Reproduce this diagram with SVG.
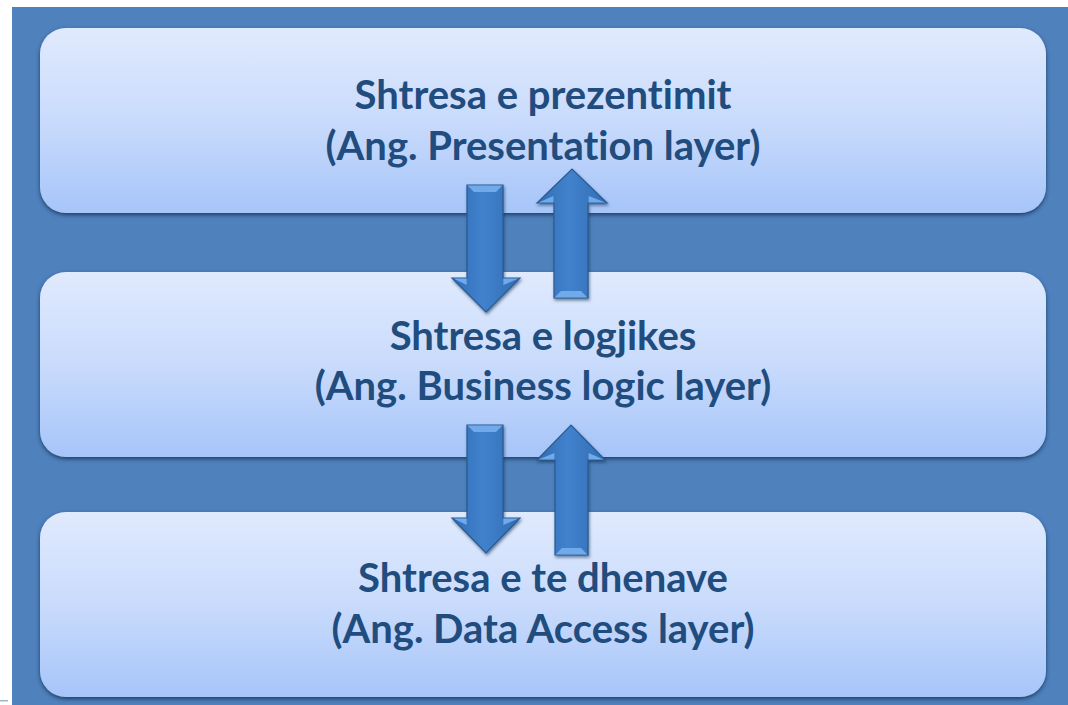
<svg xmlns="http://www.w3.org/2000/svg" width="1068" height="705" viewBox="0 0 1068 705">
  <defs>
    <linearGradient id="boxFill" x1="0" y1="0" x2="0" y2="1">
      <stop offset="0" stop-color="#e0eafd"/>
      <stop offset="0.5" stop-color="#c9dbfc"/>
      <stop offset="1" stop-color="#a6c5f9"/>
    </linearGradient>
    <linearGradient id="arrowFill" x1="0" y1="0" x2="1" y2="0">
      <stop offset="0" stop-color="#316cb3"/>
      <stop offset="0.45" stop-color="#4182cd"/>
      <stop offset="1" stop-color="#326db3"/>
    </linearGradient>
    <filter id="boxShadow" x="-5%" y="-10%" width="110%" height="125%">
      <feGaussianBlur in="SourceAlpha" stdDeviation="2"/>
      <feOffset dx="0" dy="2" result="b"/>
      <feComponentTransfer><feFuncA type="linear" slope="0.75"/></feComponentTransfer>
      <feFlood flood-color="#1e3f66"/>
      <feComposite operator="in" in2="b"/>
      <feMerge><feMergeNode/><feMergeNode in="SourceGraphic"/></feMerge>
    </filter>
    <filter id="arrowShadow" x="-40%" y="-20%" width="180%" height="140%">
      <feGaussianBlur in="SourceAlpha" stdDeviation="1.5"/>
      <feOffset dx="1" dy="2" result="b"/>
      <feFlood flood-color="#1a3658" flood-opacity="0.6"/>
      <feComposite operator="in" in2="b"/>
      <feMerge><feMergeNode/><feMergeNode in="SourceGraphic"/></feMerge>
    </filter>
  </defs>
  <style>
    .box { fill: url(#boxFill); filter: url(#boxShadow); }
    .label { font-family: Lato, "Liberation Sans", sans-serif; font-weight: bold; font-size: 40px; fill: #214c7e; text-anchor: middle; font-variant-ligatures: none; }
    .arrow { fill: url(#arrowFill); stroke: #2a5a92; stroke-width: 1.2; stroke-linejoin: miter; }
    .bevel { fill: #70aaea; }
    .arrows { filter: url(#arrowShadow); }
  </style>

  <!-- page background -->
  <rect x="0" y="0" width="1068" height="705" fill="#ffffff"/>
  <rect x="12" y="7" width="1056" height="698" fill="#4f81bd"/>
  <rect x="0" y="700" width="8" height="1.5" fill="#9fb5cc"/>

  <g id="presentation-layer">
    <rect class="box" x="40" y="28" width="1006" height="185" rx="26" ry="26"/>
    <text class="label" x="543" y="109">Shtresa e prezentimit</text>
    <text class="label" x="543" y="160">(Ang. Presentation layer)</text>
  </g>

  <g id="business-layer">
    <rect class="box" x="40" y="272" width="1006" height="185" rx="26" ry="26"/>
    <text class="label" x="543" y="350">Shtresa e logjikes</text>
    <text class="label" x="543" y="400">(Ang. Business logic layer)</text>
  </g>

  <g id="data-layer">
    <rect class="box" x="40" y="512" width="1006" height="185" rx="26" ry="26"/>
    <text class="label" x="543" y="592">Shtresa e te dhenave</text>
    <text class="label" x="543" y="643">(Ang. Data Access layer)</text>
  </g>

  <g id="connectors">
    <!-- presentation -> business -->
    <g class="arrows">
      <polygon class="arrow" points="467,185 503,185 503,278 520,278 486,312 452,278 467,278"/>
      <polygon class="bevel" points="467.6,185.6 502.4,185.6 496,192 474,192"/>
      <polygon class="bevel" points="453.5,278.6 466.6,278.6 466.6,285"/>
      <polygon class="bevel" points="503.4,278.6 518.5,278.6 503.4,285"/>
    </g>
    <!-- business -> presentation -->
    <g class="arrows">
      <polygon class="arrow" points="554,298 588,298 588,203 607,203 572,169 537,203 554,203"/>
      <polygon class="bevel" points="554.6,297.4 587.4,297.4 581,291 561,291"/>
      <polygon class="bevel" points="538.5,202.4 553.4,202.4 553.4,196"/>
      <polygon class="bevel" points="588.6,202.4 605.5,202.4 588.6,196"/>
    </g>
    <!-- business -> data -->
    <g class="arrows">
      <polygon class="arrow" points="467,425 503,425 503,518 520,518 486,553 452,518 467,518"/>
      <polygon class="bevel" points="467.6,425.6 502.4,425.6 496,432 474,432"/>
      <polygon class="bevel" points="453.5,518.6 466.6,518.6 466.6,525"/>
      <polygon class="bevel" points="503.4,518.6 518.5,518.6 503.4,525"/>
    </g>
    <!-- data -> business -->
    <g class="arrows">
      <polygon class="arrow" points="555,555 588,555 588,460 605,460 571,425 537,460 555,460"/>
      <polygon class="bevel" points="555.6,554.4 587.4,554.4 581,548 562,548"/>
      <polygon class="bevel" points="538.5,459.4 554.4,459.4 554.4,453"/>
      <polygon class="bevel" points="588.6,459.4 603.5,459.4 588.6,453"/>
    </g>
  </g>
</svg>
